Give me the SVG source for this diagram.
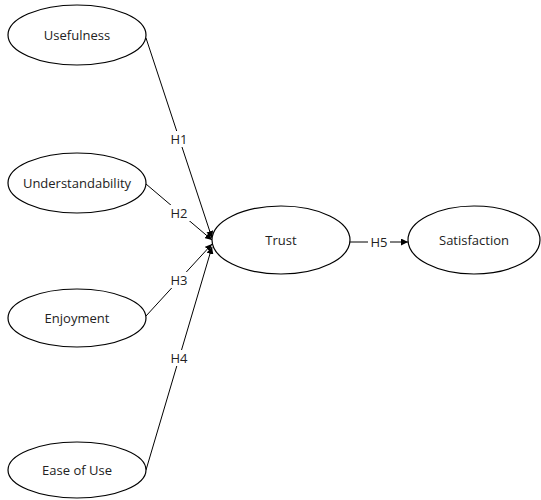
<svg xmlns="http://www.w3.org/2000/svg" width="541" height="500" viewBox="0 0 541 500">
<defs>
<marker id="arr" viewBox="0 0 10 10" refX="10" refY="5" markerWidth="7" markerHeight="7" orient="auto" markerUnits="userSpaceOnUse">
<path d="M0,0 L10,5 L0,10 z" fill="#000"/>
</marker>
<style>
.node ellipse{fill:#fff;stroke:#000;stroke-width:1.2}
text{font-family:"Open Sans","Liberation Sans",sans-serif;font-size:13px;fill:#222;text-anchor:middle;dominant-baseline:central}
.edge line{stroke:#000;stroke-width:1;marker-end:url(#arr)}
.lbl rect{fill:#fff}
</style>
</defs>
<rect width="541" height="500" fill="#fff"/>
<g id="connectors">
<g class="edge"><line x1="146" y1="38" x2="212" y2="238"/></g>
<g class="edge"><line x1="146" y1="184" x2="212" y2="240"/></g>
<g class="edge"><line x1="146" y1="316" x2="212" y2="244"/></g>
<g class="edge"><line x1="146" y1="470" x2="212" y2="247"/></g>
<g class="edge"><line x1="350" y1="242" x2="408" y2="242"/></g>
<g class="lbl">
<rect x="168" y="131" width="22" height="16"/><text x="179" y="139">H1</text>
<rect x="168" y="205" width="22" height="16"/><text x="179" y="213">H2</text>
<rect x="168" y="272" width="22" height="16"/><text x="179" y="280">H3</text>
<rect x="168" y="350" width="22" height="16"/><text x="179" y="358">H4</text>
<rect x="368" y="234" width="22" height="16"/><text x="379" y="242">H5</text>
</g>
</g>
<g id="usefulness" class="node"><ellipse cx="77" cy="35" rx="69" ry="30"/><text x="77" y="35">Usefulness</text></g>
<g id="understandability" class="node"><ellipse cx="77" cy="183" rx="69" ry="30"/><text x="77" y="183">Understandability</text></g>
<g id="enjoyment" class="node"><ellipse cx="77" cy="318" rx="69" ry="29"/><text x="77" y="318">Enjoyment</text></g>
<g id="ease" class="node"><ellipse cx="77" cy="470" rx="69" ry="28"/><text x="77" y="470">Ease of Use</text></g>
<g id="trust" class="node"><ellipse cx="281" cy="240" rx="69" ry="34"/><text x="281" y="240">Trust</text></g>
<g id="satisfaction" class="node"><ellipse cx="474" cy="240" rx="66" ry="34"/><text x="474" y="240">Satisfaction</text></g>
</svg>
